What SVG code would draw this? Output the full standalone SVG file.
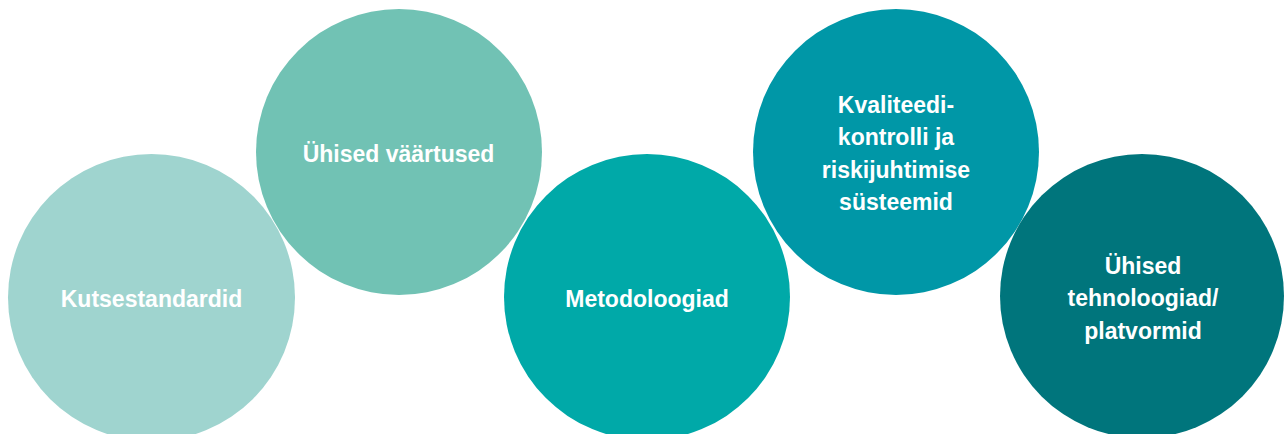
<svg xmlns="http://www.w3.org/2000/svg" width="1284" height="434" viewBox="0 0 1284 434">
<style>
.lbl{font-family:"Liberation Sans",Arial,sans-serif;font-weight:bold;font-size:23px;fill:#ffffff;text-anchor:middle}
</style>
<rect width="1284" height="434" fill="#ffffff"/>
<g id="node1"><circle cx="151.5" cy="297.5" r="143.5" fill="#9fd4cf"/><text class="lbl" x="151.5" y="306.5">Kutsestandardid</text></g>
<g id="node2"><circle cx="399" cy="152" r="143" fill="#71c2b4"/><text class="lbl" x="398.5" y="161.5">Ühised väärtused</text></g>
<g id="node3"><circle cx="647" cy="297" r="143" fill="#00a9a8"/><text class="lbl" x="647" y="306.5">Metodoloogiad</text></g>
<g id="node4"><circle cx="896" cy="152" r="143" fill="#0097a7"/><text class="lbl" x="896" y="112.5">Kvaliteedi-</text><text class="lbl" x="896" y="145">kontrolli ja</text><text class="lbl" x="896" y="177.5">riskijuhtimise</text><text class="lbl" x="896" y="210">süsteemid</text></g>
<g id="node5"><circle cx="1142" cy="296" r="142" fill="#00757c"/><text class="lbl" x="1143" y="273.5">Ühised</text><text class="lbl" x="1143" y="306">tehnoloogiad/</text><text class="lbl" x="1143" y="338.5">platvormid</text></g>
<g id="connectors"/>
</svg>
